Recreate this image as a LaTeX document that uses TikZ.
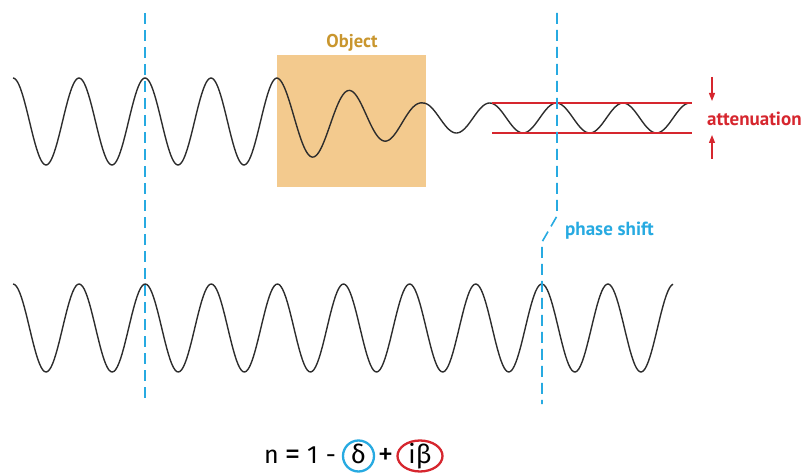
\documentclass[tikz,border=0pt]{standalone}
\usepackage{fontspec}
\setmainfont{PT Sans}
\newfontfamily\formfont{Fira Sans}
\usetikzlibrary{arrows.meta,shapes.geometric}
\definecolor{dashblue}{RGB}{39,170,225}
\definecolor{attred}{RGB}{214,38,46}
\definecolor{objfill}{RGB}{243,202,142}
\definecolor{objtext}{RGB}{201,150,46}
\definecolor{wavegray}{RGB}{45,45,45}
\begin{document}
\begin{tikzpicture}[x=1pt,y=-1pt,
  wave/.style={draw=wavegray,line width=1.4pt,line join=round},
  phaseline/.style={draw=dashblue,line width=1.6pt,dash pattern=on 11pt off 6pt},
  redline/.style={draw=attred,line width=1.6pt},
  redarrow/.style={draw=attred,line width=1.3pt,-{Triangle[length=8pt,width=6pt]}},
  lbl/.style={font=\bfseries\fontsize{19}{19}\selectfont,inner sep=0pt},
  formula/.style={font=\formfont\fontsize{25}{25}\selectfont,inner sep=0pt,anchor=base},
  bigop/.style={font=\formfont\fontsize{31}{31}\selectfont,inner sep=0pt,anchor=base}]
\useasboundingbox (0,0) rectangle (806,473);

% object box
\fill[objfill] (277,55) rectangle (426,187);
\node[lbl,text=objtext,font=\bfseries\fontsize{18.5}{18.5}\selectfont] (objlabel) at (352,43) {Object};

% top wave
\draw[wave] plot[domain=13:277,samples=180] (\x,{121.5-43.5*cos((\x-13)/66*360)})
  -- plot[domain=277:423,samples=120] (\x,{121.5-3.5*(\x-277)/146-(43.5-28.5*(\x-277)/146)*cos((\x-277)/73*360)})
  -- plot[domain=423:688,samples=180] (\x,{118-15*cos((\x-423)/66.7*360)});

% bottom wave
\draw[wave] plot[domain=13:673,samples=400] (\x,{328-44*cos((\x-13)/66.1*360)});

% attenuation
\coordinate (ru1) at (492,103); \coordinate (ru2) at (692,103);
\coordinate (rl1) at (492,133); \coordinate (rl2) at (692,133);
\draw[redline] (ru1) -- (ru2);
\draw[redline] (rl1) -- (rl2);
\coordinate (a1s) at (712,77); \coordinate (a1e) at (712,101);
\coordinate (a2s) at (712,159); \coordinate (a2e) at (712,135);
\draw[redarrow] (a1s) -- (a1e);
\draw[redarrow] (a2s) -- (a2e);
\node[lbl,text=attred,anchor=west] (att) at (707,119) {attenuation};

% phase lines
\coordinate (l1) at (145,13); \coordinate (l2) at (145,404);
\draw[phaseline] (l1) -- (l2);
\coordinate (r1) at (557,13); \coordinate (r2) at (557,216);
\coordinate (r3) at (542,242); \coordinate (r4) at (542,404);
\draw[phaseline] (r1) -- (r2) -- (r3) -- (r4);
\node[lbl,text=dashblue,anchor=west] (ps) at (565,231) {phase shift};

% formula
\node[formula] (fn) at (271.5,463) {n};
\node[bigop] (feq) at (292.5,464) {=};
\node[formula] (fone) at (312.5,463) {1};
\node[formula] (fminus) at (331,463) {-};
\node[formula,font=\formfont\fontsize{26}{26}\selectfont] (fdelta) at (358.5,463) {δ};
\node[bigop] (fplus) at (385.5,464) {+};
\node[formula,font=\formfont\fontsize{26}{26}\selectfont] (fibeta) at (420,463) {iβ};
\node[draw=dashblue,circle,line width=2.3pt,minimum size=31pt,inner sep=0pt] (cdelta) at (358.5,456) {};
\node[draw=attred,ellipse,line width=2.3pt,minimum width=45pt,minimum height=31pt,inner sep=0pt] (cbeta) at (420,456) {};
\end{tikzpicture}
\end{document}
